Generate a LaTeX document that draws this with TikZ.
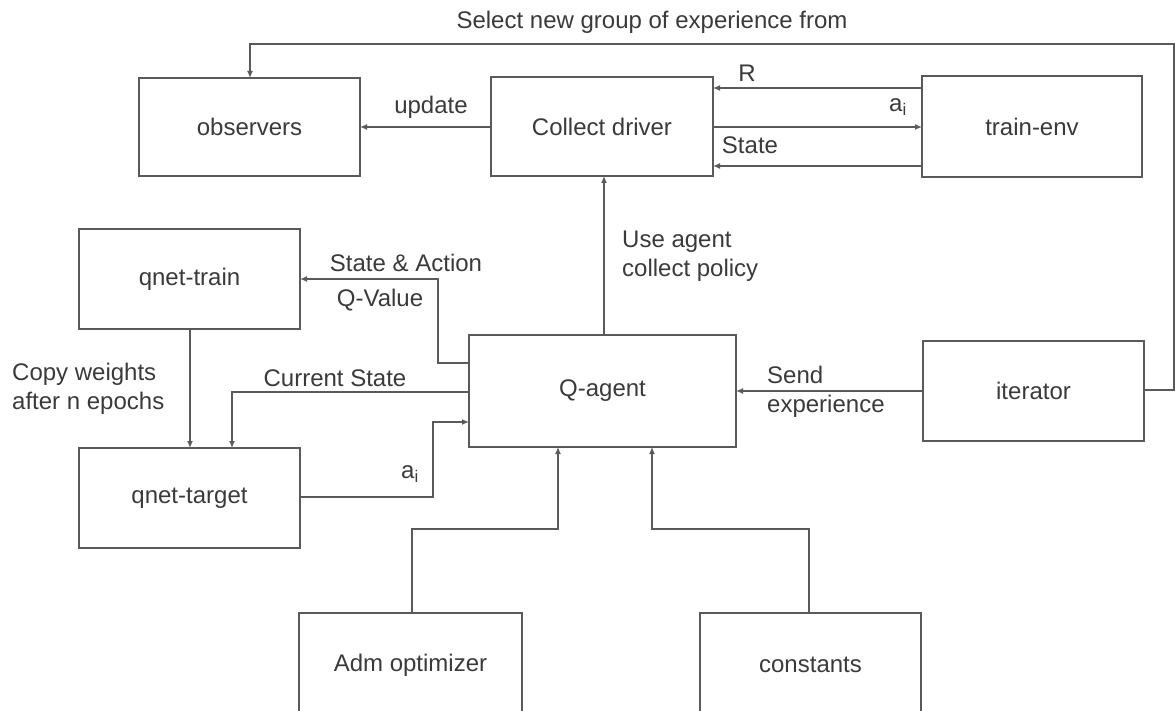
\documentclass[tikz,border=0pt]{standalone}
\usepackage{fontspec}
\setmainfont{Liberation Sans}
\usetikzlibrary{arrows.meta}
\definecolor{linegray}{HTML}{5A5A5A}
\definecolor{textgray}{HTML}{3A3A3A}
\begin{document}
\begin{tikzpicture}[x=1pt,y=-1pt,
  font=\fontsize{24}{29}\selectfont,
  box/.style={draw=linegray,line width=1.3pt,rectangle,inner sep=0pt,outer sep=0pt,
              text=textgray},
  lbl/.style={inner sep=0pt,text=textgray},
  link/.style={draw=linegray,line width=1.3pt},
  arr/.style={link,-{Latex[length=7pt,width=6pt]}}]
\useasboundingbox (0,0) rectangle (1175,711);
\clip (0,0) rectangle (1175,711);

% blocks
\node[box,minimum width=221pt,minimum height=98pt]  (observers) at (249.5,127) {observers};
\node[box,minimum width=222pt,minimum height=99pt]  (collect)   at (602,126.5) {Collect driver};
\node[box,minimum width=220pt,minimum height=101pt] (trainenv)  at (1032,126.5) {train-env};
\node[box,minimum width=221pt,minimum height=100pt] (qtrain)    at (189.5,279) {qnet-train};
\node[box,minimum width=267pt,minimum height=112pt] (qagent)    at (602.5,391) {Q-agent};
\node[box,minimum width=221pt,minimum height=100pt] (iterator)  at (1033.5,391) {iterator};
\node[box,minimum width=221pt,minimum height=100pt] (qtarget)   at (189.5,498) {qnet-target};
\node[box,minimum width=223pt,minimum height=104pt] (adm)       at (410.5,665) {Adm optimizer};
\node[box,minimum width=221pt,minimum height=104pt] (consts)    at (810.5,665) {constants};

% feedback loop from the iterator back to the observers
\coordinate (rt) at (1174,44);
\draw[arr] (iterator.east |- 0,390) -| (rt) -| (observers.north -| 250,0);
\node[lbl] (selectlbl) at (652,22) {Select new group of experience from};

% collect driver and environment
\draw[arr] (collect.west |- 0,127) -- (observers.east |- 0,127);
\node[lbl] (updatelbl) at (431,107) {update};
\draw[arr] (trainenv.west |- 0,88) -- (collect.east |- 0,88);
\node[lbl] (rlbl) at (747,73) {R};
\draw[arr] (collect.east |- 0,127) -- (trainenv.west |- 0,127);
\node[lbl] (ailbl) at (898,107) {a\textsubscript{i}};
\draw[arr] (trainenv.west |- 0,166) -- (collect.east |- 0,166);
\node[lbl] (statelbl) at (750,145) {State};

% agent to collect driver
\draw[arr] (qagent.north -| 604,0) -- (collect.south -| 604,0);
\node[lbl,anchor=west,align=left] (uselbl) at (622,256) {Use agent\\collect policy};

% agent and networks
\draw[arr] (qagent.west |- 0,363) -- (438,363) -- (438,279) -- (qtrain.east |- 0,279);
\node[lbl] (salbl) at (406,263) {State \& Action};
\node[lbl] (qvlbl) at (380,300) {Q-Value};
\draw[arr] (qagent.west |- 0,392) -| (qtarget.north -| 232,0);
\node[lbl] (cslbl) at (335,378) {Current State};
\draw[arr] (qtarget.east |- 0,497) -- (433,497) -- (433,422) -- (qagent.west |- 0,422);
\node[lbl] (ai2lbl) at (410,474) {a\textsubscript{i}};
\draw[arr] (qtrain.south -| 190,0) -- (qtarget.north -| 190,0);
\node[lbl,anchor=west,align=left] (copylbl) at (12,389) {Copy weights\\after n epochs};

% iterator to agent
\draw[arr] (iterator.west |- 0,391) -- (qagent.east |- 0,391);
\node[lbl,anchor=west,align=left] (sendlbl) at (767,392) {Send\\experience};

% optimizer and constants feed the agent
\draw[arr] (adm.north -| 412,0) -- (412,529) -| (qagent.south -| 558,0);
\draw[arr] (consts.north -| 809,0) -- (809,529) -| (qagent.south -| 652,0);
\end{tikzpicture}
\end{document}
